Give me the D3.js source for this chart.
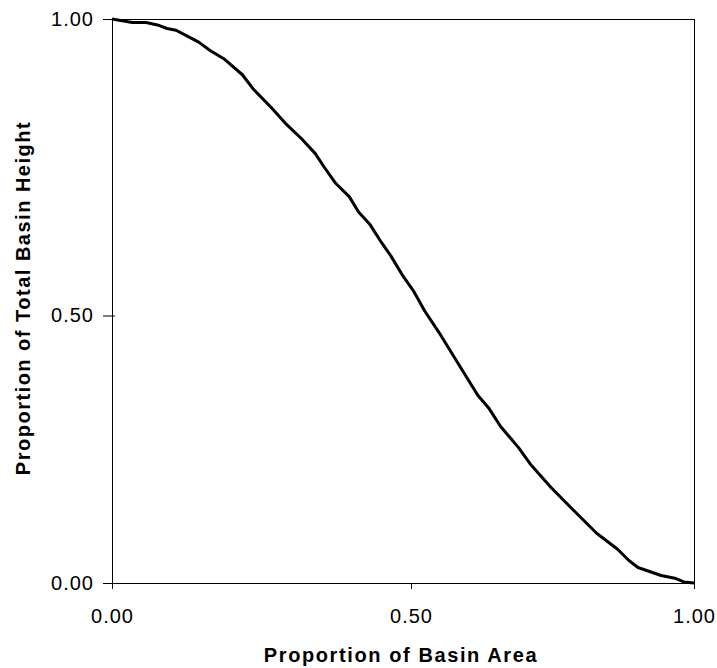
<!DOCTYPE html>
<meta charset="utf-8">
<style>
  body { margin: 0; background: #fff; }
  text { font-family: "Liberation Sans", Arial, sans-serif; fill: #000; }
</style>
<svg width="717" height="668"></svg>
<script src="https://cdn.jsdelivr.net/npm/d3@7"></script>
<script>

    // hypsometric curve
    var areaProp = [0, 0.034, 0.057, 0.076, 0.092, 0.107, 0.126, 0.145, 0.164, 0.187,
        0.218, 0.237, 0.267, 0.290, 0.317, 0.340, 0.355, 0.374, 0.397, 0.412,
        0.431, 0.450, 0.466, 0.485, 0.504, 0.524, 0.549, 0.577, 0.618, 0.638,
        0.658, 0.690, 0.711, 0.747, 0.788, 0.828, 0.865, 0.885, 0.901, 0.942,
        0.966, 0.982, 1.0];
    var heightProp = [1.0, 0.994, 0.994, 0.990, 0.984, 0.981, 0.971, 0.961, 0.947, 0.933,
        0.906, 0.881, 0.850, 0.824, 0.798, 0.773, 0.750, 0.723, 0.700, 0.675,
        0.654, 0.624, 0.601, 0.569, 0.542, 0.508, 0.469, 0.421, 0.351, 0.326,
        0.293, 0.253, 0.222, 0.179, 0.135, 0.093, 0.063, 0.042, 0.029, 0.014,
        0.009, 0.002, 0];

    var xTicks = [0, 0.5, 1];
    var yTicks = [0, 0.5, 1];

    var svg = d3.select("svg"),
            margin = {top: 19, left: 112, bottom: 85, right: 23},
            width = +svg.attr("width") - margin.left - margin.right,
            height = +svg.attr("height") - margin.top - margin.bottom;

    // the middle tick sits a bit off centre in the original, so piecewise scales
    var x = d3.scaleLinear()
            .domain([0, 0.5, 1])
            .range([0, 299, width]);

    var y = d3.scaleLinear()
            .domain([0, 0.5, 1])
            .range([height, 296.5, 0]);

    var g = svg.append("g")
            .attr("transform", "translate(" + margin.left + "," + margin.top + ")");

    g.append("rect")
            .attr("x", 0.5)
            .attr("y", 0.5)
            .attr("width", width)
            .attr("height", height)
            .attr("fill", "none")
            .attr("stroke", "#000")
            .attr("stroke-width", 1);

    let yAxis = g.append("g")
            .call(d3.axisLeft(y).tickValues(yTicks).tickFormat(d3.format(".2f"))
                    .tickSizeInner(9).tickSizeOuter(0).tickPadding(9));
    yAxis.select(".domain").remove();
    yAxis.selectAll("line").attr("x1", 3).attr("stroke", "#000");
    yAxis.selectAll("text")
            .attr("font-size", 20)
            .attr("letter-spacing", "1px")
            .attr("font-family", "Liberation Sans, Arial, sans-serif");

    let xAxis = g.append("g")
            .attr("transform", "translate(0," + height + ")")
            .call(d3.axisBottom(x).tickValues(xTicks).tickFormat(d3.format(".2f"))
                    .tickSizeInner(6).tickSizeOuter(0).tickPadding(20));
    xAxis.select(".domain").remove();
    xAxis.selectAll("line").attr("stroke", "#000");
    xAxis.selectAll("text")
            .attr("font-size", 20)
            .attr("letter-spacing", "1px")
            .attr("font-family", "Liberation Sans, Arial, sans-serif");

    let data = areaProp.map((a, i) => [a, heightProp[i]]);

    let l = d3.line()
            .x((d) => x(d[0]))
            .y((d) => y(d[1]));

    g.append("path")
            .datum(data)
            .attr("fill", "none")
            .attr("stroke", "#000")
            .attr("stroke-width", 3)
            .attr("stroke-linejoin", "round")
            .attr("d", l);

    svg.append("text")
            .attr("x", 401)
            .attr("y", 662)
            .attr("text-anchor", "middle")
            .attr("font-size", 20)
            .attr("font-weight", "bold")
            .attr("letter-spacing", "1.6px")
            .text("Proportion of Basin Area");

    svg.append("text")
            .attr("transform", "translate(30,298) rotate(-90)")
            .attr("text-anchor", "middle")
            .attr("font-size", 20)
            .attr("font-weight", "bold")
            .attr("letter-spacing", "1.5px")
            .text("Proportion of Total Basin Height");

</script>
